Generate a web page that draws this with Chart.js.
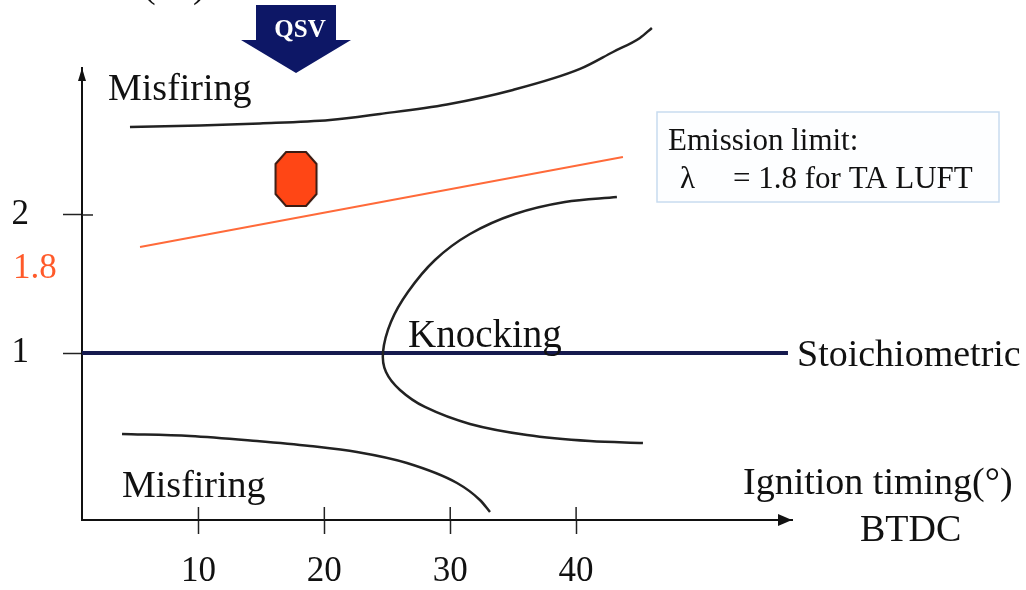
<!DOCTYPE html>
<html>
<head>
<meta charset="utf-8">
<script src="https://cdn.jsdelivr.net/npm/chart.js@4.4.1/dist/chart.umd.min.js"></script>
<style>
  html, body { margin: 0; padding: 0; background: #fff; }
  #wrap { width: 1026px; height: 590px; position: relative; }
</style>
</head>
<body>
<div id="wrap"><canvas id="myChart"></canvas></div>
<script>
// ignition timing (deg BTDC) on x, lambda on y
var xTicks = [10, 20, 30, 40];
var yTicks = [1, 2];

// upper misfiring limit
var misfireTopX = [4.56, 10.12, 14.89, 20.45, 24.42, 29.74, 34.98, 40.31, 42.93, 45.07, 46.02];
var misfireTopY = [2.638, 2.649, 2.663, 2.688, 2.732, 2.801, 2.906, 3.058, 3.181, 3.283, 3.355];

// lower misfiring limit
var misfireLowX = [3.93, 9.33, 14.65, 18.86, 22.59, 26.56, 30.54, 32.36, 33.16];
var misfireLowY = [0.413, 0.399, 0.362, 0.326, 0.283, 0.203, 0.058, -0.065, -0.152];

// knocking boundary
var knockX = [43.24, 39.11, 35.14, 31.57, 28.79, 26.64, 25.29, 24.66, 24.90, 26.01, 27.99, 31.57, 36.10, 41.10, 45.31];
var knockY = [2.130, 2.094, 2.007, 1.862, 1.674, 1.442, 1.225, 1.007, 0.862, 0.732, 0.609, 0.486, 0.406, 0.362, 0.348];

// emission limit line (TA LUFT)
var limitX = [5.36, 43.72];
var limitY = [1.768, 2.420];

// stoichiometric line
var stoichX = [0.75, 56.83];
var stoichY = [1, 1];

// QSV operating point
var qsvX = [17.75];
var qsvY = [2.261];

function pts(xs, ys) {
    return xs.map(function (x, i) { return { x: x, y: ys[i] }; });
}

// octagon marker for the operating point
var octo = document.createElement('canvas');
octo.width = 46; octo.height = 60;
(function () {
    var c = octo.getContext('2d');
    var cx = 23, cy = 30;
    var p = [[-10, -27], [10, -27], [20.5, -15], [20.5, 15], [10, 27], [-10, 27], [-20.5, 15], [-20.5, -15]];
    c.beginPath();
    p.forEach(function (q, i) { if (i == 0) c.moveTo(cx + q[0], cy + q[1]); else c.lineTo(cx + q[0], cy + q[1]); });
    c.closePath();
    c.fillStyle = '#ff4615';
    c.fill();
    c.lineWidth = 2;
    c.strokeStyle = '#3b1b12';
    c.stroke();
})();

var serif = "'Liberation Serif', 'Times New Roman', serif";

var sketch = {
    id: 'sketch',
    afterDraw: function (chart) {
        var ctx = chart.ctx;
        var xs = chart.scales.x, ys = chart.scales.y;
        var ca = chart.chartArea;
        ctx.save();

        // inner halves of the tick marks
        ctx.strokeStyle = '#222';
        ctx.lineWidth = 1.5;
        xTicks.forEach(function (v) {
            var px = xs.getPixelForValue(v);
            ctx.beginPath(); ctx.moveTo(px, ca.bottom - 13); ctx.lineTo(px, ca.bottom); ctx.stroke();
        });
        var py2 = ys.getPixelForValue(2);
        ctx.beginPath(); ctx.moveTo(ca.left, py2); ctx.lineTo(ca.left + 11, py2); ctx.stroke();

        // axis arrows
        ctx.fillStyle = '#111';
        ctx.beginPath();
        ctx.moveTo(ca.left, ca.top); ctx.lineTo(ca.left - 4, ca.top + 13); ctx.lineTo(ca.left + 4, ca.top + 13);
        ctx.closePath(); ctx.fill();
        ctx.beginPath();
        ctx.moveTo(ca.right, ca.bottom); ctx.lineTo(ca.right - 14, ca.bottom - 6); ctx.lineTo(ca.right - 14, ca.bottom + 6);
        ctx.closePath(); ctx.fill();

        // QSV block arrow
        var qx = xs.getPixelForValue(qsvX[0]);
        ctx.fillStyle = '#0d1766';
        ctx.beginPath();
        ctx.moveTo(qx - 40, 5); ctx.lineTo(qx + 40, 5); ctx.lineTo(qx + 40, 40); ctx.lineTo(qx + 55, 40);
        ctx.lineTo(qx, 73); ctx.lineTo(qx - 55, 40); ctx.lineTo(qx - 40, 40);
        ctx.closePath(); ctx.fill();
        ctx.fillStyle = '#fff';
        ctx.font = 'bold 25px ' + serif;
        ctx.textAlign = 'center';
        ctx.textBaseline = 'alphabetic';
        ctx.fillText('QSV', qx + 4, 37);

        // emission limit box
        ctx.fillStyle = '#fdfeff';
        ctx.fillRect(657, 112, 342, 90);
        ctx.strokeStyle = '#c8dbef';
        ctx.lineWidth = 1.5;
        ctx.strokeRect(657, 112, 342, 90);

        ctx.textAlign = 'left';
        ctx.fillStyle = '#111';
        ctx.font = '31px ' + serif;
        ctx.fillText('Emission limit:', 668, 150);
        ctx.fillText('\u03bb', 680, 188);
        ctx.fillText('= 1.8 for TA LUFT', 733, 188);

        // region and axis labels
        ctx.font = '38px ' + serif;
        ctx.fillText('Misfiring', 108, 100);
        ctx.fillText('Misfiring', 122, 497);
        ctx.fillText('Stoichiometric', 797, 366);
        ctx.fillText('Ignition timing(\u00b0)', 743, 494);
        ctx.fillText('BTDC', 860, 541);
        ctx.font = '39px ' + serif;
        ctx.fillText('Knocking', 408, 347);
        ctx.font = '38px ' + serif;
        ctx.fillText('( \u03bb )', 143, -3);

        ctx.fillStyle = '#ff5a2a';
        ctx.font = '35px ' + serif;
        ctx.fillText('1.8', 13, 278);

        ctx.restore();
    }
};

var ctx = document.getElementById('myChart').getContext('2d');
var myChart = new Chart(ctx, {
    type: 'scatter',
    data: {
        datasets: [{
            label: 'QSV',
            data: pts(qsvX, qsvY),
            pointStyle: octo,
            pointRadius: 20,
            showLine: false
        }, {
            label: 'Misfiring (lean)',
            data: pts(misfireTopX, misfireTopY),
            showLine: true, borderColor: '#222', borderWidth: 2.5, cubicInterpolationMode: 'monotone', pointRadius: 0, clip: false
        }, {
            label: 'Misfiring (rich)',
            data: pts(misfireLowX, misfireLowY),
            showLine: true, borderColor: '#222', borderWidth: 2.5, cubicInterpolationMode: 'monotone', pointRadius: 0, clip: false
        }, {
            label: 'Knocking',
            data: pts(knockX, knockY),
            showLine: true, borderColor: '#222', borderWidth: 2.5, tension: 0.35, pointRadius: 0, clip: false
        }, {
            label: 'Emission limit',
            data: pts(limitX, limitY),
            showLine: true, borderColor: '#ff6a3a', borderWidth: 2, pointRadius: 0, clip: false
        }, {
            label: 'Stoichiometric',
            data: pts(stoichX, stoichY),
            showLine: true, borderColor: '#161a4e', borderWidth: 4, pointRadius: 0, clip: false
        }]
    },
    options: {
        responsive: true,
        maintainAspectRatio: false,
        animation: false,
        layout: { padding: { top: 68, right: 234, bottom: 0, left: 0 } },
        plugins: { legend: { display: false }, tooltip: { enabled: false } },
        scales: {
            x: {
                type: 'linear', min: 0.75, max: 57.15,
                afterBuildTicks: function (s) { s.ticks = xTicks.map(function (v) { return { value: v }; }); },
                afterFit: function (s) { s.height = 70; },
                ticks: { color: '#111', font: { family: serif, size: 35 }, padding: 17, maxRotation: 0 },
                grid: { display: true, drawOnChartArea: false, drawTicks: true, tickLength: 14, tickColor: '#222', tickWidth: 1.5 },
                border: { display: true, color: '#111', width: 2 }
            },
            y: {
                type: 'linear', min: -0.21, max: 3.065,
                afterBuildTicks: function (s) { s.ticks = yTicks.map(function (v) { return { value: v }; }); },
                afterFit: function (s) { s.width = 82; },
                ticks: { color: '#111', font: { family: serif, size: 35 }, padding: 34 },
                grid: { display: true, drawOnChartArea: false, drawTicks: true, tickLength: 19, tickColor: '#222', tickWidth: 1.5 },
                border: { display: true, color: '#111', width: 2 }
            }
        }
    },
    plugins: [sketch]
});
</script>
</body>
</html>
